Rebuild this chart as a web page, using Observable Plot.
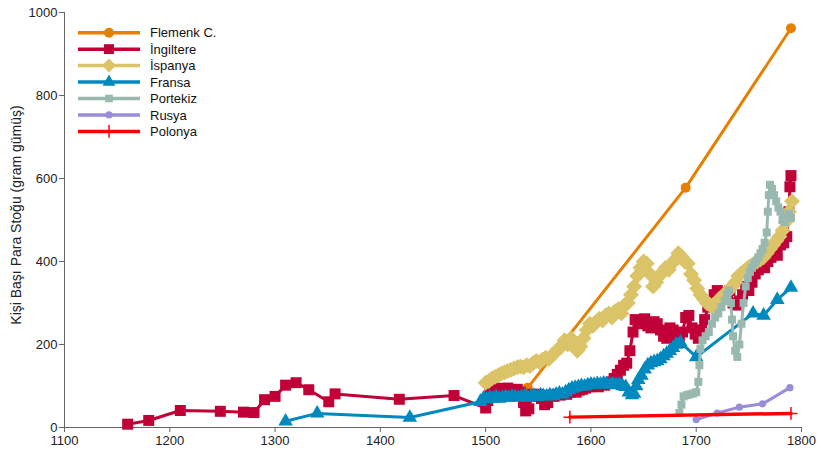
<!DOCTYPE html>
<html>
<head>
<meta charset="utf-8">
<script src="https://cdn.jsdelivr.net/npm/d3@7"></script>
<script src="https://cdn.jsdelivr.net/npm/@observablehq/plot@0.6"></script>
<style>
  html, body { margin: 0; padding: 0; background: #fff; }
  #wrap { position: relative; width: 821px; height: 450px; font-family: "Liberation Sans", Arial, sans-serif; }
  #legend { position: absolute; left: 0; top: 0; }
</style>
</head>
<body>
<div id="wrap"><div id="chart"></div><svg id="legend" width="240" height="150"></svg></div>
<script>
// ---- data ----
const xTicks = [1100, 1200, 1300, 1400, 1500, 1600, 1700, 1800];
const yTicks = [0, 200, 400, 600, 800, 1000];
const yLabel = "Kişi Başı Para Stoğu (gram gümüş)";

const names = ["Flemenk C.", "İngiltere", "İspanya", "Fransa", "Portekiz", "Rusya", "Polonya"];
const colors = ["#e68000", "#c20038", "#dbc468", "#0089bf", "#98b8b0", "#978dd8", "#ff0000"];
const symbols = ["circle", "square", "diamond2", "triangle", "square", "circle", "plus"];

const flemenkYears = [1540, 1690, 1790];
const flemenkValues = [96, 578, 962];

const ingiltereYears = [1160, 1180, 1210, 1248, 1270, 1280, 1290, 1300, 1310, 1320, 1332, 1351, 1357, 1418, 1470,
  1500, 1502, 1504, 1506, 1509, 1512, 1515, 1518, 1521, 1524, 1527, 1530, 1533, 1536, 1538, 1541, 1544, 1547, 1550,
  1553, 1556, 1559, 1562, 1565, 1568, 1571, 1574, 1577, 1580, 1583, 1586, 1589, 1592, 1595, 1598, 1601, 1604, 1607,
  1610, 1613, 1616, 1619, 1622, 1625, 1628, 1631, 1634, 1637, 1640, 1642, 1645, 1648, 1651, 1654, 1657, 1660, 1663,
  1666, 1669, 1672, 1675, 1678, 1681, 1684, 1687, 1690, 1693, 1696, 1699, 1702, 1705, 1708, 1711, 1714, 1717, 1720,
  1723, 1726, 1729, 1732, 1735, 1738, 1741, 1744, 1747, 1750, 1753, 1756, 1759, 1762, 1765, 1768, 1771, 1774, 1777,
  1780, 1783, 1786, 1788, 1789, 1790];
const ingiltereValues = [8, 17, 41, 39, 37, 36, 67, 75, 102, 108, 91, 62, 81, 68, 77,
  47, 65, 85, 92, 95, 90, 94, 88, 95, 90, 88, 92, 85, 60, 40, 45, 80, 75, 80,
  70, 55, 60, 78, 75, 80, 78, 82, 80, 85, 88, 85, 90, 92, 95, 98, 100, 102, 98,
  104, 102, 106, 110, 118, 128, 138, 150, 155, 185, 230, 260, 255, 250, 262, 245, 240, 255, 250,
  235, 220, 215, 240, 235, 210, 205, 230, 265, 270, 240, 225, 215, 235, 260, 290, 300, 320, 330,
  325, 310, 320, 330, 300, 295, 305, 320, 340, 330, 350, 370, 380, 390, 385, 400, 410, 420, 415,
  440, 445, 460, 520, 580, 607];

const ispanyaYears = [1500, 1503, 1506, 1509, 1512, 1515, 1518, 1521, 1524, 1527, 1530, 1533, 1536, 1539, 1542,
  1545, 1548, 1551, 1554, 1557, 1560, 1563, 1566, 1569, 1572, 1575, 1578, 1581, 1584, 1587, 1590, 1593, 1596, 1599,
  1602, 1605, 1608, 1611, 1614, 1617, 1620, 1623, 1626, 1629, 1632, 1635, 1638, 1641, 1644, 1647, 1650, 1653, 1656,
  1659, 1662, 1665, 1668, 1671, 1674, 1677, 1680, 1683, 1686, 1689, 1692, 1695, 1698, 1701, 1704, 1707, 1710, 1713,
  1716, 1719, 1722, 1725, 1728, 1731, 1734, 1737, 1740, 1743, 1746, 1749, 1752, 1755, 1758, 1761, 1764, 1767, 1770,
  1773, 1776, 1779, 1782, 1785, 1788, 1791];
const ispanyaValues = [108, 112, 118, 122, 126, 130, 133, 136, 139, 142, 145, 147, 145, 150, 148,
  155, 160, 158, 163, 168, 165, 175, 180, 190, 195, 210, 200, 215, 205, 185, 195, 215, 235, 250,
  245, 255, 262, 258, 270, 275, 265, 280, 285, 275, 295, 300, 320, 340, 365, 385, 400, 395, 370,
  340, 350, 365, 375, 385, 380, 395, 405, 420, 412, 400, 395, 370, 355, 335, 320, 310, 300, 295,
  290, 300, 310, 315, 325, 330, 340, 350, 365, 372, 378, 385, 390, 395, 400, 405, 410, 420, 430,
  440, 450, 460, 475, 495, 520, 545];

const fransaYears = [1310, 1340, 1428, 1495, 1498, 1501, 1504, 1507, 1510, 1513, 1516, 1519, 1522, 1525, 1528,
  1531, 1534, 1537, 1540, 1543, 1546, 1549, 1552, 1555, 1558, 1561, 1564, 1567, 1570, 1573, 1576, 1579, 1582, 1585,
  1588, 1591, 1594, 1597, 1600, 1603, 1606, 1609, 1612, 1615, 1618, 1621, 1624, 1627, 1630, 1633, 1636, 1639, 1641,
  1643, 1645, 1648, 1651, 1654, 1657, 1660, 1663, 1666, 1669, 1672, 1675, 1678, 1681, 1685, 1700, 1754, 1764, 1777, 1790];
const fransaValues = [15, 34, 24, 62, 70, 68, 72, 70, 74, 70, 72, 74, 72, 75, 73,
  72, 74, 76, 72, 75, 77, 74, 78, 76, 75, 78, 76, 80, 82, 80, 85, 90, 94, 96,
  98, 100, 99, 102, 104, 103, 105, 104, 106, 104, 103, 105, 102, 104, 100, 98, 85, 78, 82,
  100, 115, 125, 140, 150, 155, 158, 160, 165, 172, 178, 185, 192, 200, 205, 170, 275, 270, 308, 337];

const portekizYears = [1684, 1686, 1688, 1691, 1694, 1697, 1700, 1702, 1703, 1704, 1706, 1709, 1712, 1715, 1718,
  1721, 1724, 1727, 1729, 1731, 1733, 1734, 1735, 1737, 1739, 1741, 1743, 1745, 1747, 1749, 1751, 1753, 1755, 1757,
  1759, 1761, 1763, 1765, 1767, 1768, 1769, 1770, 1772, 1774, 1776, 1778, 1780, 1782, 1784, 1786, 1788, 1790];
const portekizValues = [35, 55, 75, 78, 80, 82, 85, 110, 150, 190, 210, 220, 230, 250, 265,
  275, 290, 305, 320, 330, 300, 260, 220, 185, 170, 200, 250, 300, 340, 360, 375, 385, 395, 400,
  410, 420, 430, 445, 470, 520, 560, 585, 575, 560, 545, 530, 520, 500, 495, 505, 515, 505];

const rusyaYears = [1700, 1720, 1741, 1763, 1789];
const rusyaValues = [19, 35, 49, 57, 96];

const polonyaYears = [1580, 1790];
const polonyaValues = [25, 34];

// ---- build ----
const seriesYears = [flemenkYears, ingiltereYears, ispanyaYears, fransaYears, portekizYears, rusyaYears, polonyaYears];
const seriesValues = [flemenkValues, ingiltereValues, ispanyaValues, fransaValues, portekizValues, rusyaValues, polonyaValues];
const dotR = [5, 6.2, 7.2, 5.4, 4.5, 3.6, 4.2];
const lineW = [3, 3, 3, 3, 3, 3, 3.5];
const legendR = [5, 5.6, 6.3, 4.8, 4.3, 3.6, 4.2];

const series = names.map((name, i) => ({
  name, color: colors[i], symbol: symbols[i], r: dotR[i], lr: legendR[i], w: lineW[i],
  rows: seriesYears[i].map((yr, j) => ({country: name, year: yr, value: seriesValues[i][j]}))
}));

const marks = [
  Plot.ruleY([0], {stroke: "#666", strokeWidth: 1}),
  Plot.ruleX([1100], {stroke: "#666", strokeWidth: 1}),
  Plot.axisX({ticks: xTicks, tickSize: 5, tickPadding: 3, tickFormat: d => String(d), label: null, stroke: "#666", color: "#222"}),
  Plot.axisY({ticks: yTicks, tickSize: 5, tickPadding: 2, tickFormat: d => String(d), label: null, stroke: "#666", color: "#222"}),
  Plot.text([yLabel], {text: d => d, frameAnchor: "left", rotate: -90, dx: -48, dy: -5, textAnchor: "middle", lineAnchor: "middle", fontSize: 14, fill: "#222"})
];
series.forEach(s => {
  marks.push(Plot.line(s.rows, {x: "year", y: "value", stroke: s.color, strokeWidth: s.w}));
  if (s.symbol === "plus") {
    marks.push(Plot.dot(s.rows, {x: "year", y: "value", symbol: s.symbol, r: s.r, stroke: s.color, strokeWidth: 1.5}));
  } else {
    marks.push(Plot.dot(s.rows, {x: "year", y: "value", symbol: s.symbol, r: s.r, fill: s.color, stroke: "none"}));
  }
});

const chart = Plot.plot({
  width: 821, height: 450,
  marginLeft: 64, marginRight: 20, marginTop: 12, marginBottom: 23,
  style: {fontFamily: "'Liberation Sans', Arial, sans-serif", fontSize: "13px", background: "#fff", color: "#222"},
  x: {domain: [1100, 1800]},
  y: {domain: [0, 1000]},
  marks
});
document.getElementById("chart").appendChild(chart);

// ---- legend ----
const symMap = {circle: d3.symbolCircle, square: d3.symbolSquare, diamond2: d3.symbolDiamond2, triangle: d3.symbolTriangle, plus: d3.symbolPlus};
const lg = d3.select("#legend");
series.forEach((s, i) => {
  const y = 32.7 + i * 16.45;
  const g = lg.append("g").attr("transform", `translate(0,${y})`);
  g.append("line").attr("x1", 78).attr("x2", 140).attr("y1", 0).attr("y2", 0)
    .attr("stroke", s.color).attr("stroke-width", 3.5);
  const path = d3.symbol(symMap[s.symbol], Math.PI * s.lr * s.lr)();
  const p = g.append("path").attr("d", path).attr("transform", "translate(109,0)");
  if (s.symbol === "plus") p.attr("fill", "none").attr("stroke", s.color).attr("stroke-width", 1.5);
  else p.attr("fill", s.color);
  g.append("text").attr("x", 150).attr("y", 0).attr("dy", "0.35em")
    .attr("font-family", "'Liberation Sans', Arial, sans-serif").attr("font-size", 13).attr("fill", "#111")
    .text(s.name);
});
</script>
</body>
</html>
